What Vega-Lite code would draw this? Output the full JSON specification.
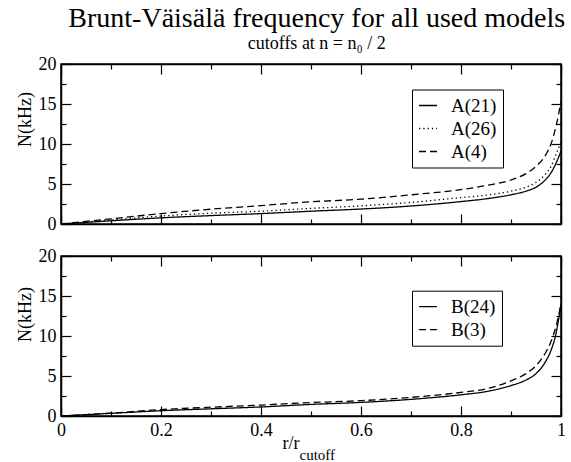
{
  "$schema": "https://vega.github.io/schema/vega-lite/v6.json",
  "padding": {"left": 15, "top": 5, "right": 5, "bottom": 2},
  "title": {
    "text": "Brunt-Väisälä frequency for all used models",
    "subtitle": "cutoffs at n = n₀ / 2",
    "font": "Liberation Serif, Times New Roman, serif",
    "subtitleFont": "Liberation Serif, Times New Roman, serif",
    "fontSize": 28,
    "subtitleFontSize": 18,
    "fontWeight": "normal",
    "color": "black",
    "subtitleColor": "black",
    "anchor": "middle",
    "dx": 26,
    "subtitlePadding": 2,
    "offset": 1
  },
  "datasets": {
    "A": [
      {"m": "A(21)", "r": 0, "N": 0}, {"m": "A(21)", "r": 0.05, "N": 0.2}, {"m": "A(21)", "r": 0.1, "N": 0.4},
      {"m": "A(21)", "r": 0.2, "N": 0.77}, {"m": "A(21)", "r": 0.3, "N": 1.05}, {"m": "A(21)", "r": 0.4, "N": 1.3},
      {"m": "A(21)", "r": 0.5, "N": 1.6}, {"m": "A(21)", "r": 0.6, "N": 1.87}, {"m": "A(21)", "r": 0.7, "N": 2.25},
      {"m": "A(21)", "r": 0.8, "N": 2.8}, {"m": "A(21)", "r": 0.85, "N": 3.15}, {"m": "A(21)", "r": 0.9, "N": 3.65},
      {"m": "A(21)", "r": 0.93, "N": 4.1}, {"m": "A(21)", "r": 0.95, "N": 4.6}, {"m": "A(21)", "r": 0.97, "N": 5.6},
      {"m": "A(21)", "r": 0.98, "N": 6.4}, {"m": "A(21)", "r": 0.99, "N": 7.6}, {"m": "A(21)", "r": 1.0, "N": 9.1},
      {"m": "A(26)", "r": 0, "N": 0}, {"m": "A(26)", "r": 0.05, "N": 0.25}, {"m": "A(26)", "r": 0.1, "N": 0.5},
      {"m": "A(26)", "r": 0.2, "N": 1.0}, {"m": "A(26)", "r": 0.3, "N": 1.35}, {"m": "A(26)", "r": 0.4, "N": 1.6},
      {"m": "A(26)", "r": 0.5, "N": 1.95}, {"m": "A(26)", "r": 0.6, "N": 2.27}, {"m": "A(26)", "r": 0.7, "N": 2.7},
      {"m": "A(26)", "r": 0.8, "N": 3.3}, {"m": "A(26)", "r": 0.85, "N": 3.6}, {"m": "A(26)", "r": 0.9, "N": 4.1},
      {"m": "A(26)", "r": 0.93, "N": 4.6}, {"m": "A(26)", "r": 0.95, "N": 5.2}, {"m": "A(26)", "r": 0.97, "N": 6.3},
      {"m": "A(26)", "r": 0.98, "N": 7.2}, {"m": "A(26)", "r": 0.99, "N": 8.7}, {"m": "A(26)", "r": 1.0, "N": 10.2},
      {"m": "A(4)", "r": 0, "N": 0}, {"m": "A(4)", "r": 0.05, "N": 0.33}, {"m": "A(4)", "r": 0.1, "N": 0.65},
      {"m": "A(4)", "r": 0.2, "N": 1.3}, {"m": "A(4)", "r": 0.3, "N": 1.85}, {"m": "A(4)", "r": 0.4, "N": 2.3},
      {"m": "A(4)", "r": 0.5, "N": 2.78}, {"m": "A(4)", "r": 0.6, "N": 3.1}, {"m": "A(4)", "r": 0.7, "N": 3.65},
      {"m": "A(4)", "r": 0.8, "N": 4.3}, {"m": "A(4)", "r": 0.85, "N": 4.8}, {"m": "A(4)", "r": 0.9, "N": 5.5},
      {"m": "A(4)", "r": 0.93, "N": 6.3}, {"m": "A(4)", "r": 0.95, "N": 7.2}, {"m": "A(4)", "r": 0.97, "N": 8.7},
      {"m": "A(4)", "r": 0.98, "N": 10.0}, {"m": "A(4)", "r": 0.99, "N": 12.2}, {"m": "A(4)", "r": 1.0, "N": 15.3}
    ],
    "B": [
      {"m": "B(24)", "r": 0, "N": 0}, {"m": "B(24)", "r": 0.05, "N": 0.17}, {"m": "B(24)", "r": 0.1, "N": 0.33},
      {"m": "B(24)", "r": 0.2, "N": 0.66}, {"m": "B(24)", "r": 0.3, "N": 0.9}, {"m": "B(24)", "r": 0.4, "N": 1.13},
      {"m": "B(24)", "r": 0.5, "N": 1.45}, {"m": "B(24)", "r": 0.6, "N": 1.7}, {"m": "B(24)", "r": 0.7, "N": 2.08},
      {"m": "B(24)", "r": 0.8, "N": 2.65}, {"m": "B(24)", "r": 0.85, "N": 3.05}, {"m": "B(24)", "r": 0.9, "N": 3.8},
      {"m": "B(24)", "r": 0.93, "N": 4.5}, {"m": "B(24)", "r": 0.95, "N": 5.3}, {"m": "B(24)", "r": 0.97, "N": 6.9},
      {"m": "B(24)", "r": 0.98, "N": 8.2}, {"m": "B(24)", "r": 0.99, "N": 10.3}, {"m": "B(24)", "r": 1.0, "N": 14.0},
      {"m": "B(3)", "r": 0, "N": 0}, {"m": "B(3)", "r": 0.05, "N": 0.18}, {"m": "B(3)", "r": 0.1, "N": 0.36},
      {"m": "B(3)", "r": 0.2, "N": 0.8}, {"m": "B(3)", "r": 0.3, "N": 1.1}, {"m": "B(3)", "r": 0.4, "N": 1.37},
      {"m": "B(3)", "r": 0.5, "N": 1.68}, {"m": "B(3)", "r": 0.6, "N": 1.92}, {"m": "B(3)", "r": 0.7, "N": 2.33},
      {"m": "B(3)", "r": 0.8, "N": 2.95}, {"m": "B(3)", "r": 0.85, "N": 3.4}, {"m": "B(3)", "r": 0.9, "N": 4.4},
      {"m": "B(3)", "r": 0.93, "N": 5.3}, {"m": "B(3)", "r": 0.95, "N": 6.3}, {"m": "B(3)", "r": 0.97, "N": 8.0},
      {"m": "B(3)", "r": 0.98, "N": 9.3}, {"m": "B(3)", "r": 0.99, "N": 11.2}, {"m": "B(3)", "r": 1.0, "N": 14.0}
    ]
  },
  "spacing": 12,
  "resolve": {"scale": {"strokeDash": "independent"}, "legend": {"strokeDash": "independent"}},
  "vconcat": [
    {
      "width": 500,
      "height": 160,
      "data": {"name": "A"},
      "resolve": {"axis": {"x": "independent", "y": "independent"}},
      "layer": [
        {
          "mark": {"type": "line", "color": "black", "strokeWidth": 1.3, "interpolate": "monotone"},
          "encoding": {
            "x": {"field": "r", "type": "quantitative", "scale": {"domain": [0, 1], "nice": false},
              "axis": {"orient": "bottom", "title": null, "labels": false,
                "values": [0, 0.1, 0.2, 0.3, 0.4, 0.5, 0.6, 0.7, 0.8, 0.9, 1.0],
                "tickSize": {"condition": {"test": "round(datum.value*10) % 2 == 0", "value": -10}, "value": -5}}},
            "y": {"field": "N", "type": "quantitative", "scale": {"domain": [0, 20], "nice": false},
              "axis": {"orient": "left", "title": "N(kHz)", "titleY": 55, "titlePadding": 4,
                "values": [0, 2.5, 5, 7.5, 10, 12.5, 15, 17.5, 20],
                "labelExpr": "datum.value % 5 == 0 ? format(datum.value, 'd') : ''",
                "labelPadding": 15,
                "tickSize": {"condition": {"test": "datum.value % 5 == 0", "value": -10}, "value": -5}}},
            "strokeDash": {"field": "m", "type": "nominal",
              "scale": {"domain": ["A(21)", "A(26)", "A(4)"], "range": [[1, 0], [1.3, 3], [7, 4]]},
              "legend": {"orient": "none", "legendX": 351, "legendY": 25.5, "title": null}}
          }
        },
        {
          "mark": {"type": "point", "opacity": 0},
          "encoding": {
            "x": {"field": "r", "type": "quantitative",
              "axis": {"orient": "top", "title": null, "labels": false,
                "values": [0, 0.1, 0.2, 0.3, 0.4, 0.5, 0.6, 0.7, 0.8, 0.9, 1.0],
                "tickSize": {"condition": {"test": "round(datum.value*10) % 2 == 0", "value": -10}, "value": -5}}},
            "y": {"field": "N", "type": "quantitative",
              "axis": {"orient": "right", "title": null, "labels": false,
                "values": [0, 2.5, 5, 7.5, 10, 12.5, 15, 17.5, 20],
                "tickSize": {"condition": {"test": "datum.value % 5 == 0", "value": -10}, "value": -5}}}
          }
        }
      ]
    },
    {
      "width": 500,
      "height": 160,
      "data": {"name": "B"},
      "resolve": {"axis": {"x": "independent", "y": "independent"}},
      "layer": [
        {
          "mark": {"type": "line", "color": "black", "strokeWidth": 1.3, "interpolate": "monotone"},
          "encoding": {
            "x": {"field": "r", "type": "quantitative", "scale": {"domain": [0, 1], "nice": false},
              "axis": {"orient": "bottom", "title": "r/r", "titleX": 229.5, "titleY": 32.7,
                "titleBaseline": "alphabetic", "titleAlign": "center",
                "values": [0, 0.1, 0.2, 0.3, 0.4, 0.5, 0.6, 0.7, 0.8, 0.9, 1.0],
                "labelExpr": "round(datum.value*10) % 2 == 0 ? format(datum.value, '~g') : ''",
                "labelPadding": 15,
                "tickSize": {"condition": {"test": "round(datum.value*10) % 2 == 0", "value": -10}, "value": -5}}},
            "y": {"field": "N", "type": "quantitative", "scale": {"domain": [0, 20], "nice": false},
              "axis": {"orient": "left", "title": "N(kHz)", "titleY": 58, "titlePadding": 4,
                "values": [0, 2.5, 5, 7.5, 10, 12.5, 15, 17.5, 20],
                "labelExpr": "datum.value % 5 == 0 ? format(datum.value, 'd') : ''",
                "labelPadding": 15,
                "tickSize": {"condition": {"test": "datum.value % 5 == 0", "value": -10}, "value": -5}}},
            "strokeDash": {"field": "m", "type": "nominal",
              "scale": {"domain": ["B(24)", "B(3)"], "range": [[1, 0], [7, 4]]},
              "legend": {"orient": "none", "legendX": 351, "legendY": 34.7, "title": null}}
          }
        },
        {
          "mark": {"type": "point", "opacity": 0},
          "encoding": {
            "x": {"field": "r", "type": "quantitative",
              "axis": {"orient": "top", "title": null, "labels": false,
                "values": [0, 0.1, 0.2, 0.3, 0.4, 0.5, 0.6, 0.7, 0.8, 0.9, 1.0],
                "tickSize": {"condition": {"test": "round(datum.value*10) % 2 == 0", "value": -10}, "value": -5}}},
            "y": {"field": "N", "type": "quantitative",
              "axis": {"orient": "right", "title": null, "labels": false,
                "values": [0, 2.5, 5, 7.5, 10, 12.5, 15, 17.5, 20],
                "tickSize": {"condition": {"test": "datum.value % 5 == 0", "value": -10}, "value": -5}}}
          }
        },
        {
          "data": {"values": [{}]},
          "mark": {"type": "text", "text": "cutoff", "font": "Liberation Serif, Times New Roman, serif", "fontSize": 15,
            "align": "left", "baseline": "alphabetic", "color": "black"},
          "encoding": {
            "x": {"datum": 0.477, "type": "quantitative", "axis": null},
            "y": {"datum": -5.45, "type": "quantitative", "axis": null}
          }
        }
      ]
    }
  ],
  "config": {
    "font": "Liberation Serif, Times New Roman, serif",
    "view": {"stroke": "black", "strokeWidth": 1.5},
    "axis": {
      "domainColor": "black", "domainWidth": 1.5, "tickColor": "black", "tickWidth": 1.2,
      "labelFont": "Liberation Serif, Times New Roman, serif", "labelFontSize": 18, "labelColor": "black",
      "labelFlush": false, "labelOverlap": false,
      "titleFont": "Liberation Serif, Times New Roman, serif", "titleFontSize": 18, "titleFontWeight": "normal", "titleColor": "black",
      "grid": false
    },
    "legend": {
      "strokeColor": "black", "strokeWidth": 1, "fillColor": "white", "padding": 6,
      "symbolType": "stroke", "symbolSize": 324, "symbolStrokeWidth": 1.3, "symbolStrokeColor": "black",
      "labelFont": "Liberation Serif, Times New Roman, serif", "labelFontSize": 19, "labelColor": "black", "labelOffset": 13,
      "rowPadding": 3
    }
  }
}
